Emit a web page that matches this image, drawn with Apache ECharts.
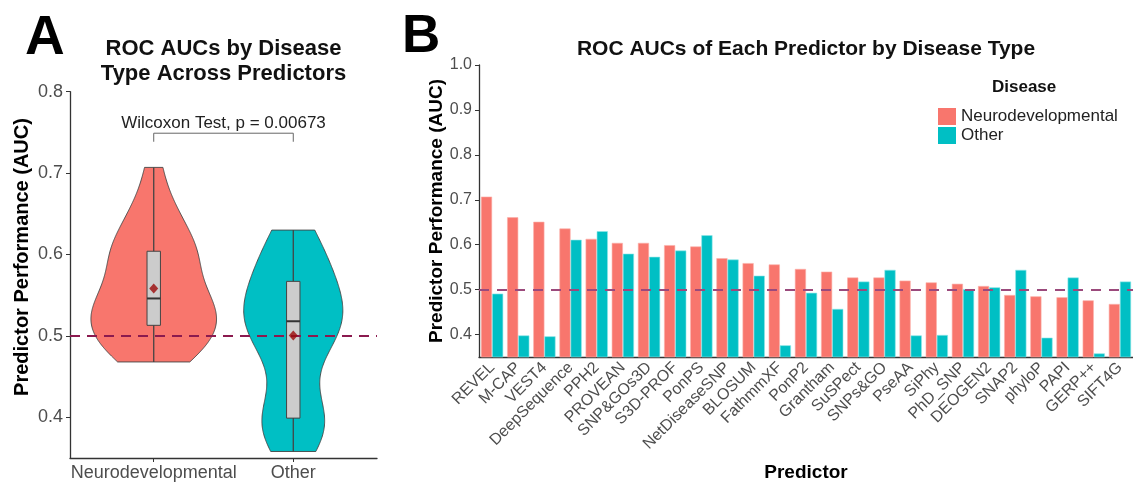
<!DOCTYPE html>
<html><head><meta charset="utf-8">
<script src="https://cdn.jsdelivr.net/npm/echarts@6/dist/echarts.min.js"></script>
<style>html,body{margin:0;padding:0;background:#fff}#c{width:1133px;height:482px}</style>
</head><body><div id="c"></div>
<script>
// ---------- data ----------
const predictors = ['REVEL','M-CAP','VEST4','DeepSequence','PPH2','PROVEAN','SNP&GOs3D','S3D-PROF','PonPS','NetDiseaseSNP','BLOSUM','FathmmXF','PonP2','Grantham','SuSPect','SNPs&GO','PseAA','SiPhy','PhD_SNP','DEOGEN2','SNAP2','phyloP','PAPI','GERP++','SIFT4G'];
const neuro = [0.707,0.661,0.651,0.636,0.613,0.604,0.604,0.599,0.596,0.570,0.559,0.556,0.546,0.540,0.527,0.527,0.520,0.516,0.513,0.508,0.488,0.485,0.483,0.476,0.468];
const other = [0.491,0.398,0.396,0.611,0.630,0.580,0.573,0.587,0.621,0.567,0.531,0.376,0.493,0.457,0.518,0.544,0.398,0.399,0.501,0.505,0.544,0.393,0.527,0.358,0.518];
const groupsA = ['Neurodevelopmental','Other'];
const yTicksA = [0.4,0.5,0.6,0.7,0.8];
const yTicksB = [0.4,0.5,0.6,0.7,0.8,0.9,1.0];
const pLabel = 'Wilcoxon Test, p = 0.00673';
const chance = 0.5;

// ---------- stats ----------
const NEURO_C = '#F8766D', OTHER_C = '#00BFC4';
function quant(arr, p){ const s=[...arr].sort((a,b)=>a-b); const h=(s.length-1)*p; const lo=Math.floor(h); return s[lo]+(h-lo)*((s[lo+1]??s[lo])-s[lo]); }
function sd(a){ const m=a.reduce((x,y)=>x+y,0)/a.length; return Math.sqrt(a.reduce((x,y)=>x+(y-m)*(y-m),0)/(a.length-1)); }
function bwNrd0(a){ const hi=sd(a); const lo=Math.min(hi,(quant(a,0.75)-quant(a,0.25))/1.34); return 0.9*lo*Math.pow(a.length,-0.2); }
function kde(a){ const bw=bwNrd0(a); const mn=Math.min(...a), mx=Math.max(...a); const pts=[]; const N=200;
  for(let i=0;i<=N;i++){ const y=mn+(mx-mn)*i/N; let d=0; for(const v of a){ const z=(y-v)/bw; d+=Math.exp(-0.5*z*z);} d/=a.length*bw*Math.sqrt(2*Math.PI); pts.push([y,d]); } return pts; }
const groupsData = [neuro, other];
const dens = groupsData.map(kde);
const maxD = Math.max(...dens.map(c=>Math.max(...c.map(p=>p[1]))));
const stats = groupsData.map(a=>({min:Math.min(...a),max:Math.max(...a),q1:quant(a,0.25),med:quant(a,0.5),q3:quant(a,0.75),mean:a.reduce((x,y)=>x+y,0)/a.length}));

const FONT = 'Liberation Sans, Arial, sans-serif';
const axisLineStyle = {color:'#333', width:1.3};

const chart = echarts.init(document.getElementById('c'), null, {renderer:'canvas'});
chart.setOption({
  animation:false,
  textStyle:{fontFamily:FONT},
  grid:[
    {left:70, top:91.7, width:307, height:368.3},
    {left:479, top:65, right:0, height:292}
  ],
  xAxis:[
    {type:'value', gridIndex:0, min:0.4, max:2.6, splitLine:{show:false},
     axisLine:{lineStyle:axisLineStyle}, axisTick:{customValues:[1,2], length:4, lineStyle:{color:'#333'}},
     axisLabel:{customValues:[1,2], formatter:v=>groupsA[Math.round(v)-1], fontSize:18, color:'#4d4d4d', margin:6}},
    {type:'category', gridIndex:1, data:predictors, axisLine:{lineStyle:axisLineStyle},
     axisTick:{alignWithLabel:true, length:4, lineStyle:{color:'#333'}},
     axisLabel:{rotate:45, interval:0, fontSize:16, color:'#4d4d4d', margin:8}}
  ],
  yAxis:[
    {type:'value', gridIndex:0, min:0.35, max:0.8, splitLine:{show:false},
     axisLine:{show:true, lineStyle:axisLineStyle}, axisTick:{show:true, customValues:yTicksA, length:4, lineStyle:{color:'#333'}},
     axisLabel:{customValues:yTicksA, formatter:v=>v.toFixed(1), fontSize:18, color:'#4d4d4d', margin:7}},
    {type:'value', gridIndex:1, min:0.35, max:1.0, splitLine:{show:false},
     axisLine:{show:true, lineStyle:axisLineStyle}, axisTick:{show:true, customValues:yTicksB, length:4, lineStyle:{color:'#333'}},
     axisLabel:{customValues:yTicksB, formatter:v=>v.toFixed(1), fontSize:16, color:'#4d4d4d', margin:7}}
  ],
  legend:{data:['Neurodevelopmental','Other'], orient:'vertical', left:933, top:103, itemWidth:18, itemHeight:17, itemGap:2,
    icon:'rect', itemStyle:{borderWidth:0}, textStyle:{fontSize:17, color:'#222', fontFamily:FONT}, selectedMode:false},
  graphic:[
    {type:'text', left:25, top:11, style:{text:'A', font:'bold 55px '+FONT, fill:'#000'}},
    {type:'text', left:402, top:11, style:{text:'B', font:'bold 53px '+FONT, fill:'#000'}},
    {type:'text', x:223.5, y:48.5, style:{text:'ROC AUCs by Disease', font:'bold 22px '+FONT, fill:'#111', align:'center', verticalAlign:'middle'}},
    {type:'text', x:223.5, y:73.5, style:{text:'Type Across Predictors', font:'bold 22px '+FONT, fill:'#111', align:'center', verticalAlign:'middle'}},
    {type:'text', x:806, y:49, style:{text:'ROC AUCs of Each Predictor by Disease Type', font:'bold 21px '+FONT, fill:'#111', align:'center', verticalAlign:'middle'}},
    {type:'text', x:22, y:257, rotation:Math.PI/2, style:{text:'Predictor Performance (AUC)', font:'bold 20px '+FONT, fill:'#000', align:'center', verticalAlign:'middle'}},
    {type:'text', x:437, y:211, rotation:Math.PI/2, style:{text:'Predictor Performance (AUC)', font:'bold 19px '+FONT, fill:'#000', align:'center', verticalAlign:'middle'}},
    {type:'text', x:806, y:473, style:{text:'Predictor', font:'bold 19px '+FONT, fill:'#000', align:'center', verticalAlign:'middle'}},
    {type:'text', x:992, y:87, style:{text:'Disease', font:'bold 17px '+FONT, fill:'#111', align:'left', verticalAlign:'middle'}}
  ],
  series:[
    // violins
    {type:'custom', xAxisIndex:0, yAxisIndex:0, clip:false, silent:true, z:2,
     data:[[1,0],[2,1]],
     renderItem:(params, api)=>{
       const g = params.dataIndex, cx = api.value(0);
       const curve = dens[g];
       const right = curve.map(p=>api.coord([cx + 0.45*p[1]/maxD, p[0]]));
       const left = curve.slice().reverse().map(p=>api.coord([cx - 0.45*p[1]/maxD, p[0]]));
       return {type:'polygon', shape:{points:right.concat(left)},
         style:{fill: g===0?NEURO_C:OTHER_C, stroke:'#444', lineWidth:0.9}};
     }},
    // box + whiskers + median
    {type:'custom', xAxisIndex:0, yAxisIndex:0, clip:false, silent:true, z:3,
     data:[[1,0],[2,1]],
     renderItem:(params, api)=>{
       const g = params.dataIndex, cx = api.value(0), s = stats[g], hw = 0.048;
       const top = api.coord([cx, s.max]), bot = api.coord([cx, s.min]);
       const a = api.coord([cx-hw, s.q3]), b = api.coord([cx+hw, s.q1]);
       const m1 = api.coord([cx-hw, s.med]), m2 = api.coord([cx+hw, s.med]);
       return {type:'group', children:[
         {type:'line', shape:{x1:top[0],y1:top[1],x2:bot[0],y2:bot[1]}, style:{stroke:'#444', lineWidth:1.3}},
         {type:'rect', shape:{x:a[0], y:a[1], width:b[0]-a[0], height:b[1]-a[1]}, style:{fill:'#cccccc', stroke:'#444', lineWidth:1}},
         {type:'line', shape:{x1:m1[0],y1:m1[1],x2:m2[0],y2:m2[1]}, style:{stroke:'#333', lineWidth:2}}
       ]};
     }},
    // chance line A
    {type:'line', xAxisIndex:0, yAxisIndex:0, data:[], z:4, silent:true,
     markLine:{silent:true, symbol:'none', label:{show:false}, data:[{yAxis:chance}],
       lineStyle:{color:'#8B1A4F', width:2.2, type:[10,7]}}},
    // means
    {type:'scatter', xAxisIndex:0, yAxisIndex:0, symbol:'diamond', symbolSize:[9,10], z:5, silent:true,
     itemStyle:{color:'#9B0A0A'}, data:stats.map((s,i)=>[i+1, s.mean])},
    // bracket + label
    {type:'custom', xAxisIndex:0, yAxisIndex:0, clip:false, silent:true, z:5,
     data:[[1,2]],
     renderItem:(params, api)=>{
       const yTop = 0.749, yEnd = 0.7385, yText = 0.7617;
       const p = [[1,yEnd],[1,yTop],[2,yTop],[2,yEnd]].map(q=>api.coord(q));
       const t = api.coord([1.5, yText]);
       return {type:'group', children:[
         {type:'polyline', shape:{points:p}, style:{stroke:'#666', lineWidth:1, fill:null}},
         {type:'text', x:t[0], y:t[1], style:{text:pLabel, font:'17px '+FONT, fill:'#222', align:'center', verticalAlign:'middle'}}
       ]};
     }},
    // bars
    {name:'Neurodevelopmental', type:'bar', xAxisIndex:1, yAxisIndex:1, data:neuro, barGap:'0%', barCategoryGap:'15%',
     itemStyle:{color:NEURO_C, borderColor:'#fbb0aa', borderWidth:0.6}, silent:true,
     markLine:{silent:true, symbol:'none', label:{show:false}, data:[{yAxis:chance}], z:10,
       lineStyle:{color:'#9B4A7C', width:2.2, type:[10,8]}}},
    {name:'Other', type:'bar', xAxisIndex:1, yAxisIndex:1, data:other, barGap:'0%', barCategoryGap:'15%',
     itemStyle:{color:OTHER_C, borderColor:'#8fe5e8', borderWidth:0.6}, silent:true}
  ]
});
</script></body></html>
